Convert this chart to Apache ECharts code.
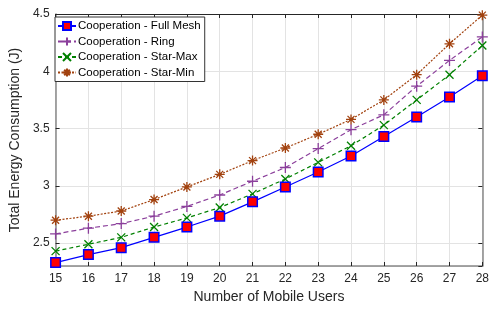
<!DOCTYPE html>
<html>
<head>
<meta charset="utf-8">
<script src="https://cdn.jsdelivr.net/npm/echarts@6/dist/echarts.min.js"></script>
<style>
  html, body { margin: 0; padding: 0; background: #fff; }
  #chart { width: 492px; height: 309px; }
</style>
</head>
<body>
<div id="chart"></div>
<script>
// number of mobile users on the x axis
const users = [15, 16, 17, 18, 19, 20, 21, 22, 23, 24, 25, 26, 27, 28]

// energy readings (J) per scheme
const fullMesh = [2.33, 2.40, 2.46, 2.55, 2.64, 2.735, 2.86, 2.99, 3.12, 3.26, 3.43, 3.60, 3.775, 3.96]
const ring     = [2.58, 2.63, 2.67, 2.735, 2.82, 2.92, 3.04, 3.16, 3.325, 3.49, 3.62, 3.87, 4.095, 4.30]
const starMax  = [2.43, 2.49, 2.55, 2.64, 2.72, 2.81, 2.93, 3.06, 3.205, 3.35, 3.53, 3.75, 3.97, 4.225]
const starMin  = [2.70, 2.735, 2.78, 2.88, 2.99, 3.10, 3.22, 3.33, 3.45, 3.58, 3.75, 3.97, 4.24, 4.49]

const yTicks = [2.5, 3, 3.5, 4, 4.5]

const chart = echarts.init(document.getElementById('chart'))

const font = 'Liberation Sans, Arial, Helvetica, sans-serif'
const gridColor = '#e3e3e3'
const pair = arr => arr.map((v, i) => [users[i], v])

// marker shapes that echarts does not ship
const plusPath = 'path://M0,5 L10,5 M5,0 L5,10'
const crossPath = 'path://M0,0 L10,10 M10,0 L0,10'
const starPath = 'path://M0,5 L10,5 M5,0 L5,10 M1.5,1.5 L8.5,8.5 M8.5,1.5 L1.5,8.5'

const option = {
  animation: false,
  textStyle: { fontFamily: font },
  grid: { left: 48, right: 6, top: 14, bottom: 38 },
  legend: {
    orient: 'vertical',
    left: 55,
    top: 17,
    itemWidth: 18,
    itemHeight: 10,
    itemGap: 3.5,
    padding: [3, 4, 3, 2],
    backgroundColor: '#fff',
    borderColor: '#333',
    borderWidth: 1,
    textStyle: { fontSize: 11.5, color: '#000', fontFamily: font, padding: [0, 0, 0, -3] },
    data: ['Cooperation - Full Mesh', 'Cooperation - Ring', 'Cooperation - Star-Max', 'Cooperation - Star-Min']
  },
  xAxis: [
    {
      type: 'value', min: 15, max: 28, interval: 1,
      name: 'Number of Mobile Users', nameLocation: 'middle', nameGap: 24,
      nameTextStyle: { fontSize: 14, color: '#262626' },
      axisLine: { lineStyle: { color: '#888', width: 1.5 } },
      axisTick: { inside: true, length: 4, lineStyle: { color: '#262626' } },
      axisLabel: { fontSize: 12, color: '#262626', margin: 7 },
      splitLine: { show: true, lineStyle: { color: gridColor } }
    },
    {
      type: 'value', min: 15, max: 28, interval: 1, position: 'top',
      axisLine: { lineStyle: { color: '#262626' } },
      axisTick: { inside: true, length: 4, lineStyle: { color: '#262626' } },
      axisLabel: { show: false },
      splitLine: { show: false }
    }
  ],
  yAxis: [
    {
      type: 'value', min: 2.3, max: 4.5,
      name: 'Total Energy Consumption (J)', nameLocation: 'middle', nameGap: 21,
      nameTextStyle: { fontSize: 14, color: '#262626' },
      axisLine: { show: true, lineStyle: { color: '#888', width: 1.5 } },
      axisTick: { show: true, inside: true, length: 4, lineStyle: { color: '#262626' } },
      axisLabel: {
        fontSize: 12, color: '#262626', margin: 6,
        formatter: v => yTicks.includes(+v.toFixed(2)) ? String(+v.toFixed(2)) : ''
      },
      splitLine: { show: true, lineStyle: { color: gridColor } }
    },
    {
      type: 'value', min: 2.3, max: 4.5, position: 'right',
      axisLine: { show: true, lineStyle: { color: '#888', width: 1.5 } },
      axisTick: { show: true, inside: true, length: 4, lineStyle: { color: '#262626' } },
      axisLabel: { show: false },
      splitLine: { show: false }
    }
  ],
  series: [
    {
      name: 'Cooperation - Full Mesh', type: 'line', data: pair(fullMesh),
      symbol: 'rect', symbolSize: 9.5,
      lineStyle: { color: '#0000ff', width: 1.2 },
      itemStyle: { color: '#ff0000', borderColor: '#0000ff', borderWidth: 1.5 },
      z: 5
    },
    {
      name: 'Cooperation - Ring', type: 'line', data: pair(ring),
      symbol: plusPath, symbolSize: 11,
      lineStyle: { color: '#8b3f9b', width: 1.2, type: [5, 3] },
      itemStyle: { color: '#8b3f9b', borderColor: '#8b3f9b', borderWidth: 1.3 }
    },
    {
      name: 'Cooperation - Star-Max', type: 'line', data: pair(starMax),
      symbol: crossPath, symbolSize: 8,
      lineStyle: { color: '#008000', width: 1.2, type: [4, 3] },
      itemStyle: { color: '#008000', borderColor: '#008000', borderWidth: 1.3 }
    },
    {
      name: 'Cooperation - Star-Min', type: 'line', data: pair(starMin),
      symbol: starPath, symbolSize: 10,
      lineStyle: { color: '#a2420f', width: 1.2, type: [2, 1.5] },
      itemStyle: { color: '#a2420f', borderColor: '#a2420f', borderWidth: 1.3 }
    }
  ]
}

chart.setOption(option)
</script>
</body>
</html>
